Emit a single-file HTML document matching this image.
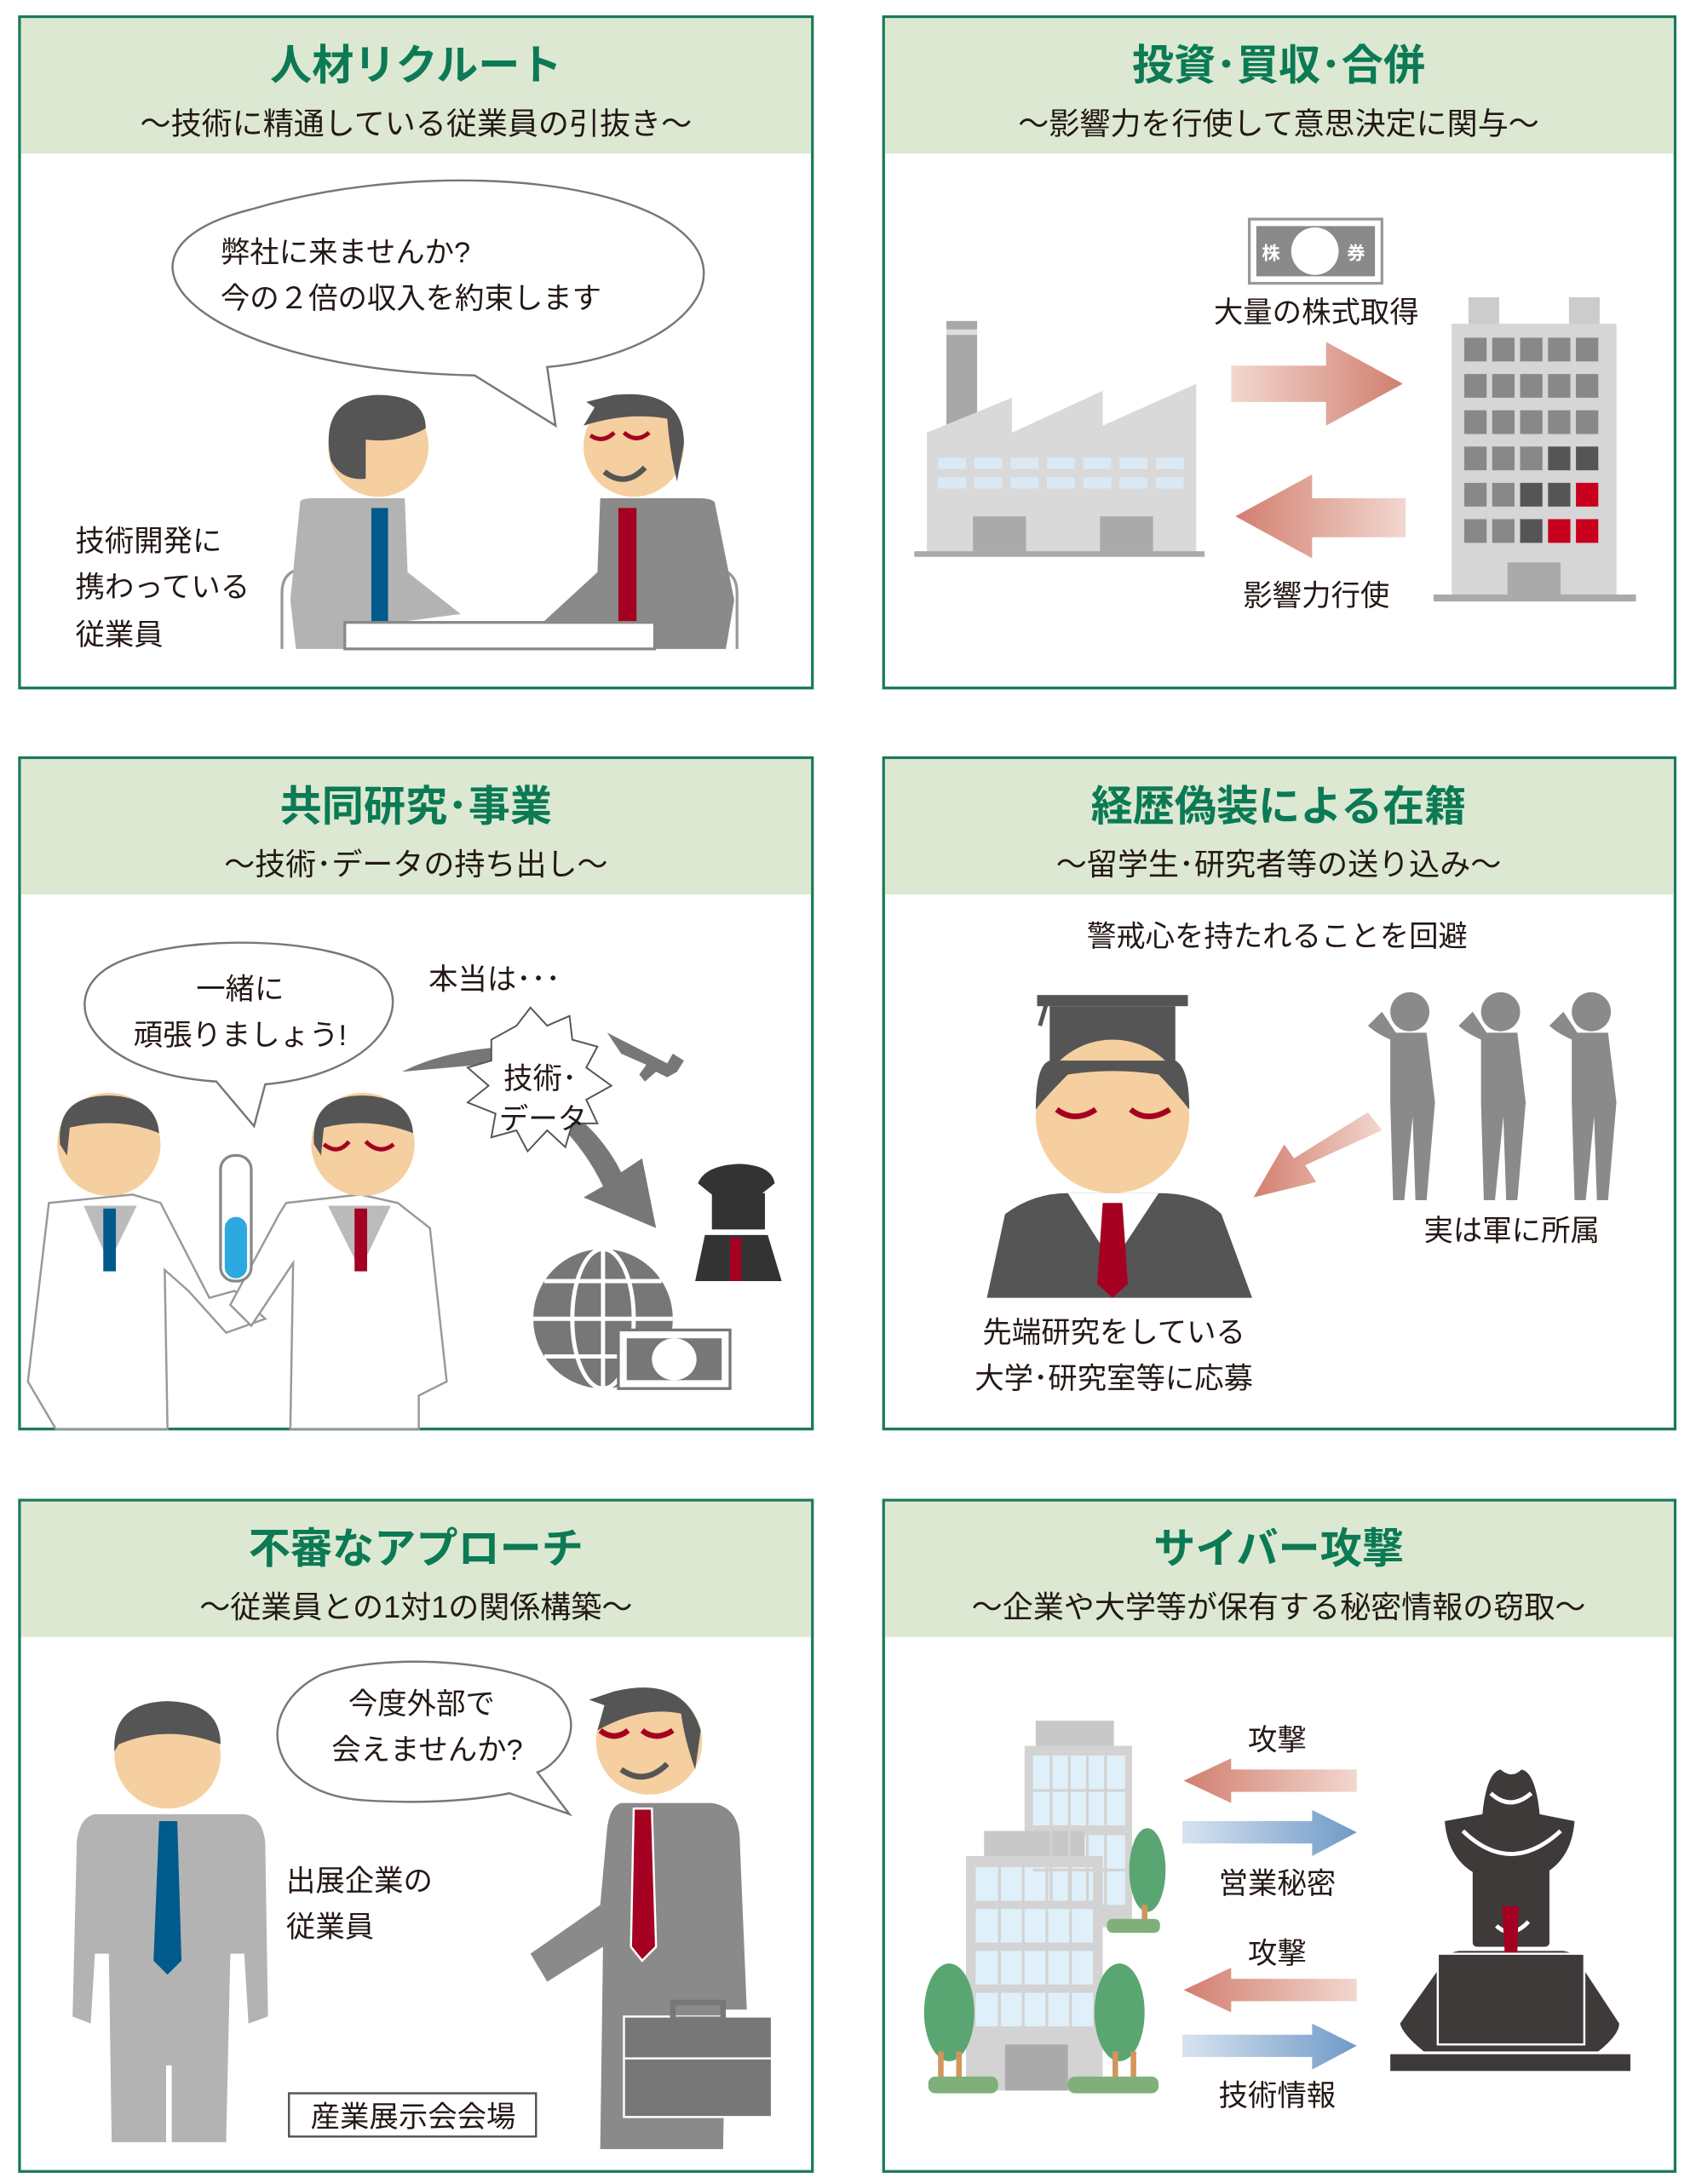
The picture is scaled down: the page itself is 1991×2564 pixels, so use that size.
<!DOCTYPE html>
<html><head><meta charset="utf-8">
<style>
html,body{margin:0;padding:0;background:#fff;}
svg{display:block;}
text{font-family:"Liberation Sans","Noto Sans CJK JP",sans-serif;fill:#231815;}
.t{font-size:30px;font-weight:bold;fill:#0b7a55;text-anchor:middle;}
.s{font-size:22px;text-anchor:middle;}
.l{font-size:21px;}
.c{font-size:21px;text-anchor:middle;}
</style></head><body>
<svg width="1991" height="2564" viewBox="0 0 1215 1565" preserveAspectRatio="none" xmlns="http://www.w3.org/2000/svg">
<defs>
<linearGradient id="pr" x1="0" x2="1"><stop offset="0" stop-color="#f2d7cf"/><stop offset="1" stop-color="#d27f6f"/></linearGradient>
<linearGradient id="pl" x1="1" x2="0"><stop offset="0" stop-color="#f2d7cf"/><stop offset="1" stop-color="#d27f6f"/></linearGradient>
<linearGradient id="br" x1="0" x2="1"><stop offset="0" stop-color="#d8e3f0"/><stop offset="1" stop-color="#6f9ac7"/></linearGradient>
</defs>

<g fill="#fff" stroke="#1a7a5a" stroke-width="2">
<rect x="14" y="12" width="568" height="481"/><rect x="633" y="12" width="567" height="481"/>
<rect x="14" y="543" width="568" height="481"/><rect x="633" y="543" width="567" height="481"/>
<rect x="14" y="1075" width="568" height="481"/><rect x="633" y="1075" width="567" height="481"/>
</g>
<g fill="#dce8d2">
<rect x="15" y="13" width="566" height="97"/><rect x="634" y="13" width="565" height="97"/>
<rect x="15" y="544" width="566" height="97"/><rect x="634" y="544" width="565" height="97"/>
<rect x="15" y="1076" width="566" height="97"/><rect x="634" y="1076" width="565" height="97"/>
</g>
<text class="t" x="298" y="57">人材リクルート</text>
<text class="s" x="298" y="96">～技術に精通している従業員の引抜き～</text>
<text class="t" x="916" y="57">投資･買収･合併</text>
<text class="s" x="916" y="96">～影響力を行使して意思決定に関与～</text>
<text class="t" x="298" y="588">共同研究･事業</text>
<text class="s" x="298" y="627">～技術･データの持ち出し～</text>
<text class="t" x="916" y="588">経歴偽装による在籍</text>
<text class="s" x="916" y="627">～留学生･研究者等の送り込み～</text>
<text class="t" x="298" y="1120">不審なアプローチ</text>
<text class="s" x="298" y="1159">～従業員との1対1の関係構築～</text>
<text class="t" x="916" y="1120">サイバー攻撃</text>
<text class="s" x="916" y="1159">～企業や大学等が保有する秘密情報の窃取～</text>

<!-- Panel 1 -->
<path d="M340,269 C140,265 60,180 180,150 C280,120 420,122 480,160 C540,200 480,255 392,263 L398,305 Z" fill="#fff" stroke="#777" stroke-width="1.5"/>
<text class="l" x="158" y="188">弊社に来ませんか?</text>
<text class="l" x="158" y="221">今の２倍の収入を約束します</text>
<path d="M202,465 L202,425 Q202,410 215,408" fill="none" stroke="#999" stroke-width="2"/>
<path d="M528,465 L528,425 Q528,410 515,408" fill="none" stroke="#999" stroke-width="2"/>
<path d="M215,360 Q215,357 225,357 L290,357 L292,410 L330,440 L292,445 L292,465 L212,465 L208,430 Z" fill="#b3b3b3"/>
<rect x="266" y="364" width="12" height="101" fill="#005a8c"/>
<path d="M512,360 Q510,357 500,357 L430,357 L428,410 L390,445 L428,445 L428,465 L520,465 L526,430 Z" fill="#8a8a8a"/>
<rect x="443" y="364" width="13" height="101" fill="#a50021"/>
<rect x="247" y="446" width="222" height="19" fill="#fff" stroke="#888" stroke-width="2"/>
<ellipse cx="271" cy="320" rx="36" ry="36" fill="#f5cf9f"/>
<path d="M237,330 Q228,285 270,283 Q305,283 305,307 Q285,318 262,315 L262,343 Q245,345 237,330Z" fill="#555"/>
<ellipse cx="454" cy="320" rx="36" ry="36" fill="#f5cf9f"/>
<path d="M418,305 L426,292 L420,288 L440,283 Q490,278 490,318 L485,345 Q480,325 478,300 Q450,295 418,305Z" fill="#555"/>
<path d="M423,312 Q432,318 440,310 M447,310 Q456,318 465,310" stroke="#a50021" stroke-width="3" fill="none"/>
<path d="M433,338 Q448,350 462,335" stroke="#555" stroke-width="4" fill="none"/>
<text class="l" x="54" y="395">技術開発に</text>
<text class="l" x="54" y="428">携わっている</text>
<text class="l" x="54" y="462">従業員</text>

<!-- Panel 2 -->
<rect x="895" y="157" width="95" height="46" fill="#fff" stroke="#999" stroke-width="2"/>
<rect x="900" y="162" width="85" height="36" fill="#8a8a8a"/>
<circle cx="942" cy="180" r="17" fill="#fff"/>
<text x="904" y="186" style="font-size:13px;fill:#fff;font-weight:bold">株</text>
<text x="965" y="186" style="font-size:13px;fill:#fff;font-weight:bold">券</text>
<text class="c" x="943" y="231">大量の株式取得</text>
<text class="c" x="943" y="434">影響力行使</text>
<path d="M882,262 L950,262 L950,245 L1005,275 L950,305 L950,288 L882,288 Z" fill="url(#pr)"/>
<path d="M1007,357 L940,357 L940,340 L885,370 L940,400 L940,385 L1007,385 Z" fill="url(#pl)"/>
<rect x="678" y="230" width="22" height="80" fill="#a8a8a8"/>
<rect x="678" y="236" width="22" height="4" fill="#ddd"/>
<path d="M664,397 L664,310 L725,285 L725,310 L790,280 L790,305 L857,275 L857,397 Z" fill="#d9d9d9"/>
<g fill="#dbe9f5"><rect x="672" y="328" width="20" height="8"/><rect x="698" y="328" width="20" height="8"/><rect x="724" y="328" width="20" height="8"/><rect x="750" y="328" width="20" height="8"/><rect x="776" y="328" width="20" height="8"/><rect x="802" y="328" width="20" height="8"/><rect x="828" y="328" width="20" height="8"/>
<rect x="672" y="342" width="20" height="8"/><rect x="698" y="342" width="20" height="8"/><rect x="724" y="342" width="20" height="8"/><rect x="750" y="342" width="20" height="8"/><rect x="776" y="342" width="20" height="8"/><rect x="802" y="342" width="20" height="8"/><rect x="828" y="342" width="20" height="8"/></g>
<rect x="697" y="370" width="38" height="25" fill="#aaa"/><rect x="788" y="370" width="38" height="25" fill="#aaa"/>
<rect x="655" y="395" width="208" height="4" fill="#aaa"/>
<rect x="1052" y="213" width="22" height="20" fill="#ccc"/><rect x="1124" y="213" width="22" height="20" fill="#ccc"/>
<rect x="1040" y="232" width="118" height="195" fill="#d6d6d6"/>
<g fill="#888">
<rect x="1049" y="242" width="16" height="17"/><rect x="1069" y="242" width="16" height="17"/><rect x="1089" y="242" width="16" height="17"/><rect x="1109" y="242" width="16" height="17"/><rect x="1129" y="242" width="16" height="17"/>
<rect x="1049" y="268" width="16" height="17"/><rect x="1069" y="268" width="16" height="17"/><rect x="1089" y="268" width="16" height="17"/><rect x="1109" y="268" width="16" height="17"/><rect x="1129" y="268" width="16" height="17"/>
<rect x="1049" y="294" width="16" height="17"/><rect x="1069" y="294" width="16" height="17"/><rect x="1089" y="294" width="16" height="17"/><rect x="1109" y="294" width="16" height="17"/><rect x="1129" y="294" width="16" height="17"/>
<rect x="1049" y="320" width="16" height="17"/><rect x="1069" y="320" width="16" height="17"/><rect x="1089" y="320" width="16" height="17"/>
<rect x="1049" y="346" width="16" height="17"/><rect x="1069" y="346" width="16" height="17"/>
<rect x="1049" y="372" width="16" height="17"/><rect x="1069" y="372" width="16" height="17"/></g>
<g fill="#555"><rect x="1109" y="320" width="16" height="17"/><rect x="1129" y="320" width="16" height="17"/><rect x="1089" y="346" width="16" height="17"/><rect x="1109" y="346" width="16" height="17"/><rect x="1089" y="372" width="16" height="17"/></g>
<g fill="#c8001e"><rect x="1129" y="346" width="16" height="17"/><rect x="1109" y="372" width="16" height="17"/><rect x="1129" y="372" width="16" height="17"/></g>
<rect x="1080" y="403" width="38" height="24" fill="#aaa"/>
<rect x="1027" y="426" width="145" height="5" fill="#aaa"/>

<!-- Panel 3 -->
<path d="M155,775 C70,770 40,720 75,695 C110,670 230,668 270,695 C300,720 270,770 190,777 L182,807 Z" fill="#fff" stroke="#777" stroke-width="1.5"/>
<text class="c" x="172" y="716">一緒に</text>
<text class="c" x="172" y="749">頑張りましょう!</text>
<text class="l" x="307" y="709">本当は･･･</text>
<path d="M288,768 Q320,752 365,750 L355,762 Z" fill="#777"/>
<path d="M400,790 Q430,810 445,840 L460,830 L470,880 L418,858 L432,850 Q420,825 400,805Z" fill="#777"/>
<polygon points="352,745 370,735 380,722 392,735 408,728 410,745 428,750 420,765 438,778 420,788 428,805 410,805 405,822 392,810 378,825 370,810 352,815 355,798 335,790 350,778 335,765 352,760" fill="#fff" stroke="#555" stroke-width="1.2"/>
<text class="c" x="387" y="780">技術･</text>
<text class="c" x="389" y="809">データ</text>
<path d="M435,740 L478,762 L482,755 L490,760 L485,768 L478,772 L470,768 L462,775 L458,770 L463,763 L445,755 Z" fill="#777"/>
<path d="M500,848 Q505,835 530,834 Q553,835 555,848 L545,856 Q528,860 510,856Z" fill="#333"/>
<rect x="510" y="855" width="38" height="26" fill="#333"/>
<path d="M498,918 L505,885 L550,885 L560,918Z" fill="#333"/>
<rect x="523" y="887" width="8" height="31" fill="#a50021"/>
<circle cx="432" cy="945" r="50" fill="#777"/>
<g stroke="#fff" stroke-width="3" fill="none"><ellipse cx="432" cy="945" rx="22" ry="50"/><line x1="432" y1="895" x2="432" y2="995"/><line x1="382" y1="945" x2="482" y2="945"/><path d="M390,918 H474 M390,972 H474"/></g>
<rect x="443" y="953" width="80" height="42" fill="#fff" stroke="#777" stroke-width="2"/>
<rect x="449" y="959" width="68" height="30" fill="#777"/>
<ellipse cx="483" cy="974" rx="16" ry="15" fill="#fff"/>
<path d="M35,862 L95,856 L115,862 L150,930 L168,925 L190,945 L162,955 L135,925 L118,910 L120,1024 L40,1024 L20,990 Z" fill="#fff" stroke="#999" stroke-width="1.5"/>
<path d="M60,864 L78,905 L98,864Z" fill="#bbb"/><rect x="74" y="866" width="9" height="45" fill="#005a8c"/>
<circle cx="78" cy="820" r="37" fill="#f5cf9f"/>
<path d="M43,820 Q40,785 78,785 Q112,786 114,812 Q85,800 50,808 L48,828Z" fill="#555"/>
<path d="M205,862 L258,856 L285,862 L308,880 L320,990 L300,1000 L300,1024 L208,1024 L210,905 L180,950 L165,935 L200,870Z" fill="#fff" stroke="#999" stroke-width="1.5"/>
<path d="M235,864 L258,910 L280,864Z" fill="#bbb"/><rect x="254" y="866" width="9" height="45" fill="#a50021"/>
<circle cx="260" cy="820" r="37" fill="#f5cf9f"/>
<path d="M225,820 Q222,785 260,785 Q294,786 296,812 Q265,800 232,808 L230,828Z" fill="#555"/>
<path d="M232,820 Q242,828 250,818 M262,818 Q272,828 282,820" stroke="#a50021" stroke-width="3" fill="none"/>
<rect x="158" y="828" width="22" height="90" rx="10" fill="#fff" stroke="#888" stroke-width="2"/>
<rect x="161" y="872" width="16" height="44" rx="8" fill="#2ea8e0"/>

<!-- Panel 4 -->
<text class="c" x="915" y="678">警戒心を持たれることを回避</text>
<rect x="743" y="713" width="108" height="8" fill="#555"/>
<rect x="752" y="721" width="90" height="42" fill="#555"/>
<line x1="750" y1="718" x2="745" y2="735" stroke="#555" stroke-width="3"/>
<circle cx="797" cy="800" r="55" fill="#f5cf9f"/>
<path d="M742,795 Q742,763 752,760 L842,760 Q852,765 852,795 Q840,780 830,770 Q797,765 765,770 Q750,785 742,795Z" fill="#555"/>
<path d="M757,795 Q770,805 785,795 M810,795 Q822,805 838,795" stroke="#a50021" stroke-width="4" fill="none"/>
<path d="M707,930 L720,870 Q740,855 765,855 L830,855 Q860,855 875,870 L897,930Z" fill="#555"/>
<path d="M765,855 L797,905 L830,855Z" fill="#fff"/>
<path d="M790,862 L804,862 L808,920 L797,930 L786,920Z" fill="#a50021"/>
<path d="M990,810 L935,835 L943,847 L898,858 L920,820 L927,830 L980,797Z" fill="url(#pl)"/>
<g fill="#8a8a8a">
<g transform="translate(1010,0)"><circle cx="0" cy="725" r="14"/><path d="M-14,745 Q-25,740 -30,735 L-20,725 L-10,740 L12,740 L18,790 L12,860 L4,860 L2,800 L-4,860 L-12,860 L-14,790Z"/></g>
<g transform="translate(1075,0)"><circle cx="0" cy="725" r="14"/><path d="M-14,745 Q-25,740 -30,735 L-20,725 L-10,740 L12,740 L18,790 L12,860 L4,860 L2,800 L-4,860 L-12,860 L-14,790Z"/></g>
<g transform="translate(1140,0)"><circle cx="0" cy="725" r="14"/><path d="M-14,745 Q-25,740 -30,735 L-20,725 L-10,740 L12,740 L18,790 L12,860 L4,860 L2,800 L-4,860 L-12,860 L-14,790Z"/></g>
</g>
<text class="c" x="1083" y="889">実は軍に所属</text>
<text class="c" x="798" y="962">先端研究をしている</text>
<text class="c" x="798" y="995">大学･研究室等に応募</text>

<!-- Panel 5 -->
<circle cx="120" cy="1258" r="38" fill="#f5cf9f"/>
<path d="M82,1255 Q80,1220 120,1219 Q158,1220 158,1250 Q120,1235 85,1250Z" fill="#555"/>
<path d="M68,1300 L175,1300 Q188,1302 190,1320 L192,1445 L178,1450 L175,1400 L165,1400 L162,1535 L80,1535 L78,1400 L68,1400 L65,1450 L52,1445 L55,1320 Q57,1302 68,1300Z" fill="#b3b3b3"/>
<rect x="119" y="1480" width="4" height="55" fill="#fff"/>
<path d="M114,1305 L127,1305 L130,1405 L120,1415 L110,1405Z" fill="#005a8c"/>
<path d="M260,1290 C190,1285 180,1225 230,1200 C270,1185 360,1188 395,1210 C425,1235 400,1265 385,1270 L408,1300 L365,1285 C330,1292 290,1292 260,1290Z" fill="#fff" stroke="#777" stroke-width="1.5"/>
<text class="c" x="302" y="1228">今度外部で</text>
<text class="c" x="306" y="1261">会えませんか?</text>
<text class="l" x="205" y="1355">出展企業の</text>
<text class="l" x="205" y="1388">従業員</text>
<rect x="207" y="1500" width="177" height="31" fill="#fff" stroke="#555" stroke-width="1.5"/>
<text class="c" x="296" y="1524">産業展示会会場</text>
<circle cx="465" cy="1248" r="38" fill="#f5cf9f"/>
<path d="M428,1240 L433,1222 L422,1218 L440,1212 Q490,1200 502,1240 L498,1268 Q490,1245 488,1228 Q460,1222 428,1240Z" fill="#555"/>
<path d="M430,1240 Q440,1248 450,1240 M460,1240 Q470,1248 482,1240" stroke="#a50021" stroke-width="4" fill="none"/>
<path d="M445,1268 Q462,1280 478,1264" stroke="#555" stroke-width="4" fill="none"/>
<path d="M445,1292 L510,1292 Q530,1295 530,1320 L535,1440 L520,1440 L518,1540 L430,1540 L432,1395 L392,1420 L380,1400 L430,1365 L435,1310 Q437,1294 445,1292Z" fill="#8a8a8a"/>
<path d="M454,1296 L467,1296 L470,1395 L460,1405 L452,1395Z" fill="#a50021" stroke="#fff" stroke-width="1.5"/>
<rect x="447" y="1445" width="106" height="72" fill="#777" stroke="#fff" stroke-width="1.5"/>
<rect x="482" y="1435" width="36" height="12" fill="none" stroke="#777" stroke-width="4"/>
<line x1="447" y1="1475" x2="553" y2="1475" stroke="#fff" stroke-width="1.5"/>

<!-- Panel 6 -->
<rect x="742" y="1233" width="56" height="18" fill="#c8c8c8"/>
<rect x="734" y="1251" width="77" height="130" fill="#d3d3d3"/>
<g fill="#e0f0fa"><rect x="740" y="1258" width="66" height="50"/><rect x="740" y="1315" width="66" height="50"/></g>
<rect x="705" y="1312" width="72" height="18" fill="#c8c8c8"/>
<rect x="692" y="1330" width="98" height="168" fill="#d3d3d3"/>
<g fill="#e0f0fa">
<rect x="699" y="1338" width="84" height="24"/><rect x="699" y="1368" width="84" height="24"/><rect x="699" y="1398" width="84" height="24"/><rect x="699" y="1428" width="84" height="24"/></g>
<g stroke="#d3d3d3" stroke-width="2"><line x1="716" y1="1338" x2="716" y2="1452"/><line x1="733" y1="1338" x2="733" y2="1452"/><line x1="750" y1="1338" x2="750" y2="1452"/><line x1="767" y1="1338" x2="767" y2="1452"/>
<line x1="753" y1="1258" x2="753" y2="1365"/><line x1="766" y1="1258" x2="766" y2="1365"/><line x1="779" y1="1258" x2="779" y2="1365"/><line x1="792" y1="1258" x2="792" y2="1365"/><line x1="740" y1="1283" x2="806" y2="1283"/><line x1="740" y1="1340" x2="806" y2="1340"/></g>
<rect x="720" y="1465" width="45" height="33" fill="#aaa"/>
<g fill="#5aa672"><ellipse cx="680" cy="1442" rx="18" ry="35"/><ellipse cx="802" cy="1442" rx="18" ry="35"/><ellipse cx="822" cy="1340" rx="13" ry="30"/></g>
<g fill="#d4955a"><rect x="672" y="1470" width="4" height="25"/><rect x="685" y="1470" width="4" height="25"/><rect x="797" y="1470" width="4" height="25"/><rect x="810" y="1470" width="4" height="25"/><rect x="818" y="1365" width="4" height="20"/></g>
<g fill="#7fb07a"><rect x="665" y="1488" width="50" height="12" rx="5"/><rect x="765" y="1488" width="65" height="12" rx="5"/><rect x="793" y="1375" width="38" height="10" rx="4"/></g>
<text class="c" x="915" y="1254">攻撃</text>
<text class="c" x="915" y="1357">営業秘密</text>
<text class="c" x="915" y="1407">攻撃</text>
<text class="c" x="915" y="1509">技術情報</text>
<path d="M972,1268 L882,1268 L882,1260 L848,1276 L882,1292 L882,1284 L972,1284Z" fill="url(#pl)"/>
<path d="M847,1305 L940,1305 L940,1297 L972,1313 L940,1330 L940,1321 L847,1321Z" fill="url(#br)"/>
<path d="M972,1418 L882,1418 L882,1410 L848,1426 L882,1442 L882,1434 L972,1434Z" fill="url(#pl)"/>
<path d="M847,1458 L940,1458 L940,1450 L972,1466 L940,1483 L940,1474 L847,1474Z" fill="url(#br)"/>
<!-- hacker -->
<rect x="1055" y="1320" width="55" height="75" rx="3" fill="#3f3a3a"/>
<path d="M1062,1300 Q1065,1270 1075,1268 Q1083,1275 1090,1268 Q1100,1270 1103,1300 L1128,1305 Q1125,1345 1082,1350 Q1038,1345 1035,1305Z" fill="#3f3a3a"/>
<path d="M1048,1312 Q1082,1345 1118,1312" stroke="#fff" stroke-width="3" fill="none"/>
<path d="M1068,1285 Q1082,1298 1097,1285" stroke="#fff" stroke-width="3" fill="none"/>
<path d="M1072,1380 Q1083,1390 1095,1377" stroke="#fff" stroke-width="3" fill="none"/>
<path d="M1045,1398 L1120,1398 Q1132,1400 1135,1412 L1160,1450 Q1160,1458 1145,1470 L1020,1470 Q1005,1458 1003,1450 L1030,1412 Q1033,1400 1045,1398Z" fill="#3f3a3a"/>
<path d="M1076,1366 L1088,1366 L1087,1400 L1078,1400Z" fill="#a50021"/>
<rect x="1030" y="1400" width="105" height="65" fill="#3f3a3a" stroke="#fff" stroke-width="1.5"/>
<rect x="996" y="1472" width="172" height="12" fill="#3f3a3a"/>
</svg>
</body></html>
